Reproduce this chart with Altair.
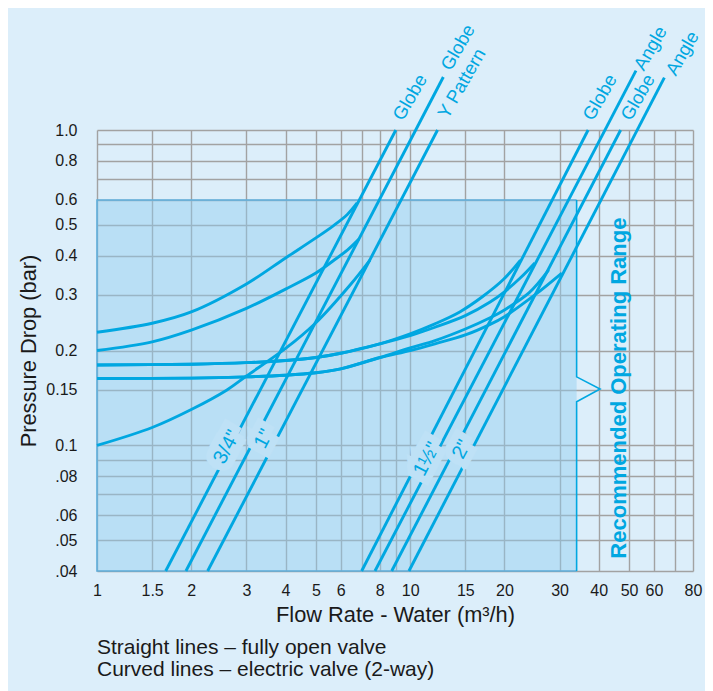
import altair as alt
import pandas as pd

FONT = "Liberation Sans"
BG = "#DCEEFA"
SHADE = "#8FCBF0"
SHADE_SOLID = "#BEE1F6"
LINE = "#00A7E1"
GRID = "#A2A2A2"
EDGE = "#5FAEDB"
INK = "#1A1A1A"

# ---- axes ----
x_ticks = [1, 1.5, 2, 3, 4, 5, 6, 7, 8, 9, 10, 15, 20, 30, 40, 50, 60, 70, 80]
x_tick_labels = ["1", "1.5", "2", "3", "4", "5", "6", "", "8", "", "10", "15", "20", "30", "40", "50", "60", "", "80"]
y_ticks = [0.04, 0.05, 0.06, 0.07, 0.08, 0.09, 0.1, 0.15, 0.2, 0.3, 0.4, 0.5, 0.6, 0.7, 0.8, 0.9, 1.0]
y_tick_labels = [".04", ".05", ".06", "", ".08", "", "0.1", "0.15", "0.2", "0.3", "0.4", "0.5", "0.6", "", "0.8", "", "1.0"]

# ---- straight lines: fully open valve ----
straight_names = ['3/4" Globe', '1" Globe', '1" Y Pattern', '1½" Globe', '1½" Angle', '2" Globe', '2" Angle']
straight_x0 = [1.657, 1.923, 2.256, 7.0, 7.72, 8.73, 9.91]
straight_y0 = [0.04, 0.04, 0.04, 0.04, 0.04, 0.04, 0.04]
straight_x1 = [9.0, 12.76, 12.23, 37.0, 52.6, 47.0, 64.8]
straight_y1 = [1.0, 1.472, 1.0, 1.0, 1.542, 1.0, 1.465]

# ---- curved lines: electric valve (2-way) ----
c34_x = [1, 1.5, 2, 3, 4, 5, 5.68, 6.3, 6.77]
c34_y = [0.2285, 0.244, 0.265, 0.325, 0.393, 0.455, 0.497, 0.54, 0.587]
c1g_x = [1, 1.5, 2, 3, 4, 5, 5.68, 6.3, 6.85]
c1g_y = [0.2, 0.213, 0.232, 0.272, 0.313, 0.352, 0.385, 0.416, 0.45]
c1y_x = [1, 1.5, 2, 2.6, 3, 4, 5, 6.42, 7.44]
c1y_y = [0.1, 0.114, 0.13, 0.15, 0.166, 0.203, 0.245, 0.322, 0.387]
c15g_x = [1, 2, 3, 4, 5, 6, 8, 10, 12, 14.4, 17, 19.8, 22.5]
c15g_y = [0.18, 0.181, 0.183, 0.186, 0.19, 0.196, 0.21, 0.226, 0.243, 0.265, 0.296, 0.335, 0.387]
c15a_x = [1, 2, 3, 4, 5, 6, 8, 10, 12, 15, 18, 20, 22.5, 25]
c15a_y = [0.18, 0.181, 0.183, 0.186, 0.19, 0.196, 0.21, 0.223, 0.237, 0.258, 0.285, 0.307, 0.34, 0.379]
c2g_x = [1, 2, 3, 4, 5, 6, 8, 10, 12, 15, 18, 20, 24, 27.7]
c2g_y = [0.163, 0.1635, 0.165, 0.167, 0.17, 0.175, 0.19, 0.204, 0.215, 0.234, 0.254, 0.269, 0.305, 0.36]
c2a_x = [1, 2, 3, 4, 5, 6, 8, 10, 12, 15, 18, 20, 25, 30.5]
c2a_y = [0.163, 0.1635, 0.165, 0.167, 0.17, 0.175, 0.19, 0.2, 0.21, 0.224, 0.242, 0.256, 0.3, 0.352]

# ---- labels ----
top_text = ["Globe", "Globe", "Y Pattern", "Globe", "Angle", "Globe", "Angle"]
top_x = [9.12, 12.97, 12.69, 36.85, 53.6, 48.7, 67.8]
top_y = [1.086, 1.564, 1.102, 1.086, 1.564, 1.086, 1.508]

size_text = ['3/4"', '1"', '1½"', '2"']
size_x = [2.60, 3.41, 11.3, 14.6]
size_y = [0.0989, 0.105, 0.0906, 0.0971]

# recommended operating range
range_x = [1, 34.0]
range_y = [0.04, 0.6]
bracket_x = [34.0, 34.0, 40.4, 34.0, 34.0]
bracket_y = [0.6, 0.165, 0.151, 0.1376, 0.04]
edge_x = [34.0, 1, 1, 34.0]
edge_y = [0.6, 0.6, 0.04, 0.04]
range_label_x = [46.4]
range_label_y = [0.152]

# ---- data frames ----
straight_rows = []
for n, a, b, c, d in zip(straight_names, straight_x0, straight_y0, straight_x1, straight_y1):
    straight_rows.append({"s": n, "x": a, "y": b, "i": 0})
    straight_rows.append({"s": n, "x": c, "y": d, "i": 1})
straight_df = pd.DataFrame(straight_rows)

curve_rows = []
for n, xs, ys in [("c34", c34_x, c34_y), ("c1g", c1g_x, c1g_y), ("c1y", c1y_x, c1y_y),
                  ("c15g", c15g_x, c15g_y), ("c15a", c15a_x, c15a_y),
                  ("c2g", c2g_x, c2g_y), ("c2a", c2a_x, c2a_y)]:
    for k, (a, b) in enumerate(zip(xs, ys)):
        curve_rows.append({"s": n, "x": a, "y": b, "i": k})
curve_df = pd.DataFrame(curve_rows)

top_df = pd.DataFrame({"t": top_text, "x": top_x, "y": top_y})
size_df = pd.DataFrame({"t": size_text, "x": size_x, "y": size_y})
rect_df = pd.DataFrame({"x": [range_x[0]], "x2": [range_x[1]], "y": [range_y[0]], "y2": [range_y[1]]})
bracket_df = pd.DataFrame({"x": bracket_x, "y": bracket_y, "i": list(range(len(bracket_x)))})
edge_df = pd.DataFrame({"x": edge_x, "y": edge_y, "i": list(range(len(edge_x)))})
rl_df = pd.DataFrame({"x": range_label_x, "y": range_label_y, "t": ["Recommended Operating Range"]})

# ---- scales / axes ----
xs_ = alt.Scale(type="log", domain=[1, 80], nice=False, zero=False)
ys_ = alt.Scale(type="log", domain=[0.04, 1.0], nice=False, zero=False)

def arr(v):
    return "[" + ",".join(repr(t) for t in v) + "]"

x_axis = alt.Axis(values=x_ticks,
                  labelExpr=f"{arr(x_tick_labels)}[indexof({arr(x_ticks)}, datum.value)]",
                  grid=True, gridColor=GRID, gridWidth=1.4, ticks=False, domain=False,
                  labelFont=FONT, labelFontSize=16, labelColor=INK, labelPadding=11,
                  labelFlush=False, labelOverlap=False,
                  title="Flow Rate - Water (m³/h)", titleFont=FONT, titleFontSize=21.8,
                  titleFontWeight="normal", titleColor=INK, titlePadding=6)
y_axis = alt.Axis(values=y_ticks,
                  labelExpr=f"{arr(y_tick_labels)}[indexof({arr(y_ticks)}, datum.value)]",
                  grid=True, gridColor=GRID, gridWidth=1.4, ticks=False, domain=False,
                  labelFont=FONT, labelFontSize=16, labelColor=INK, labelPadding=20,
                  labelFlush=False, labelOverlap=False,
                  title="Pressure Drop (bar)", titleFont=FONT, titleFontSize=21.8,
                  titleFontWeight="normal", titleColor=INK, titlePadding=5)

X = alt.X("x:Q", scale=xs_, axis=x_axis)
Y = alt.Y("y:Q", scale=ys_, axis=y_axis)

rect = alt.Chart(rect_df).mark_rect(fill=SHADE, opacity=0.45).encode(
    x=X, x2="x2:Q", y=Y, y2="y2:Q")

edge = alt.Chart(edge_df).mark_line(color=EDGE, strokeWidth=1.6).encode(
    x=X, y=Y, order="i:Q")

bracket = alt.Chart(bracket_df).mark_line(color=LINE, strokeWidth=1.6).encode(
    x=X, y=Y, order="i:Q")

straight = alt.Chart(straight_df).mark_line(color=LINE, strokeWidth=2.9, clip=False).encode(
    x=X, y=Y, detail="s:N", order="i:Q")

curves = alt.Chart(curve_df).mark_line(color=LINE, strokeWidth=2.9, interpolate="catmull-rom").encode(
    x=X, y=Y, detail="s:N", order="i:Q")

top_labels = alt.Chart(top_df).mark_text(
    align="left", baseline="middle", angle=300, font=FONT, fontSize=18.5, color=LINE
).encode(x=X, y=Y, text="t:N")

size_halo = alt.Chart(size_df).mark_text(
    align="center", baseline="middle", angle=298, font=FONT, fontSize=20,
    fill=SHADE_SOLID, stroke=SHADE_SOLID, strokeWidth=15
).encode(x=X, y=Y, text="t:N")

size_labels = alt.Chart(size_df).mark_text(
    align="center", baseline="middle", angle=298, font=FONT, fontSize=20, color=LINE
).encode(x=X, y=Y, text="t:N")

range_label = alt.Chart(rl_df).mark_text(
    align="center", baseline="middle", angle=270, font=FONT, fontSize=22,
    fontWeight="bold", color=LINE
).encode(x=X, y=Y, text="t:N")

chart = alt.layer(
    rect, edge, bracket, straight, curves, size_halo, size_labels, top_labels, range_label
).properties(
    width=596, height=441,
    background=BG,
    autosize=alt.AutoSizeParams(type="none"),
    padding={"left": 89, "top": 122, "right": 12, "bottom": 124},
    title=alt.TitleParams(
        text=["Straight lines – fully open valve", "Curved lines – electric valve (2-way)"],
        orient="bottom", anchor="start", frame="group", font=FONT, fontSize=21,
        fontWeight="normal", color=INK, lineHeight=22.5, offset=11)
).configure_view(stroke=None)

chart.save("out.html", embed_options={"renderer": "svg", "actions": False})
